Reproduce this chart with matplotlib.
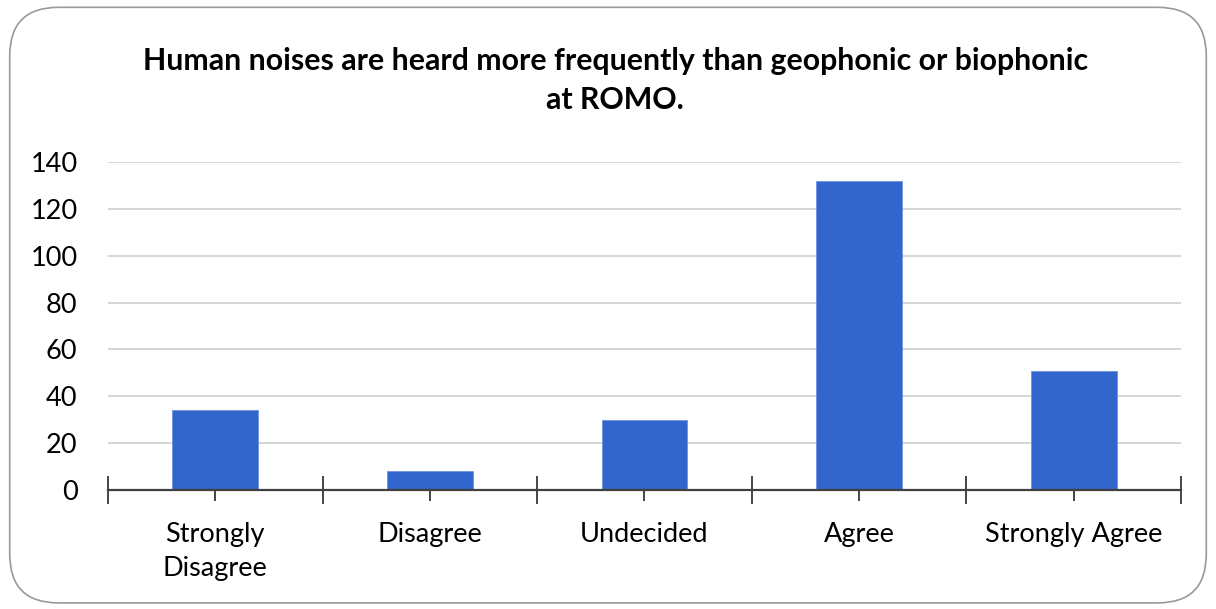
import matplotlib.pyplot as plt
import numpy as np
from matplotlib.patches import FancyBboxPatch

# survey responses
categories = ['Strongly\nDisagree', 'Disagree', 'Undecided', 'Agree', 'Strongly Agree']
counts = [34, 8, 30, 132, 51]
yticks = [0, 20, 40, 60, 80, 100, 120, 140]
title = 'Human noises are heard more frequently than geophonic or biophonic\nat ROMO.'

plt.rcParams['font.family'] = ['Lato', 'DejaVu Sans']

fig = plt.figure(figsize=(12.16, 6.09), dpi=100)

# rounded frame around the chart
frame = FancyBboxPatch((0.008, 0.01), 0.984, 0.978,
                       boxstyle='round,pad=0,rounding_size=0.04',
                       transform=fig.transFigure, facecolor='none',
                       edgecolor='#9a9a9a', linewidth=1.2, mutation_aspect=2.0)
fig.patches.append(frame)

ax = fig.add_axes([0.0888, 0.1954, 0.8824, 0.5386])
ax.set_facecolor('none')

x = np.arange(len(categories))
ax.bar(x, counts, width=0.4, color='#3366CC', edgecolor='#6f95e0',
       linewidth=0.6, zorder=3)

ax.set_xlim(-0.5, len(categories) - 0.5)
ax.set_ylim(0, 140)
ax.set_yticks(yticks)
ax.set_yticklabels([str(v) for v in yticks], fontsize=19.5)
ax.tick_params(axis='y', length=0, pad=22)
ax.yaxis.grid(True, color='#cfcfcf', linewidth=1.2, zorder=0)

# category labels at bar centres, ticks at centres and boundaries
ax.set_xticks(x)
ax.set_xticklabels(categories, fontsize=19.5, linespacing=1.45)
ax.set_xticks(np.arange(len(categories) + 1) - 0.5, minor=True)
ax.tick_params(axis='x', which='major', direction='inout', length=16,
               width=1.2, color='#262626', pad=15)
ax.tick_params(axis='x', which='minor', direction='inout', length=20,
               width=1.2, color='#262626')

for side in ['left', 'right', 'top']:
    ax.spines[side].set_visible(False)
ax.spines['bottom'].set_color('#404040')
ax.spines['bottom'].set_linewidth(1.6)
ax.spines['bottom'].set_zorder(4)

fig.text(0.506, 0.868, title, ha='center', va='center', fontsize=21.8,
         fontweight='bold', linespacing=1.5)

fig.savefig('out.png', dpi=100)
